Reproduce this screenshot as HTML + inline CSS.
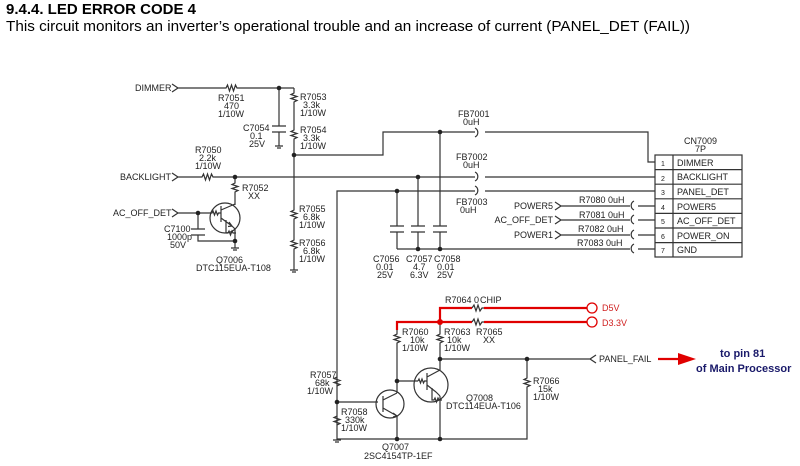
<!DOCTYPE html>
<html><head><style>
body{margin:0;background:#fff;width:800px;height:466px;overflow:hidden}
svg{display:block}
text{font-family:"Liberation Sans",sans-serif;fill:#222}
.s{font-size:9px}
.l{stroke:#333;stroke-width:1.2;fill:none}
.r{stroke:#e00000;stroke-width:2.2;fill:none}
</style></head><body>
<svg width="800" height="466" viewBox="0 0 800 466">
<text x="6" y="14" style="font-size:14.5px;font-weight:bold;fill:#000" textLength="190" lengthAdjust="spacingAndGlyphs">9.4.4. LED ERROR CODE 4</text>
<text x="6" y="31" style="font-size:15px;fill:#000" textLength="684" lengthAdjust="spacingAndGlyphs">This circuit monitors an inverter’s operational trouble and an increase of current (PANEL_DET (FAIL))</text>

<g class="l">
<path d="M172,84 L178,88 L172,92 M178,88 H226 l1.5,-3 2,6 2,-6 2,6 2,-6 1.5,3 H294"/>
<path d="M279,88 V126 M272,126 H286 M272,132 H286 M279,132 V146 M275,146 H283 M277,148 H281"/>
<path d="M294,88 V93 l-3,1.5 6,2 -6,2 6,2 -3,1.5 V130 l-3,1.5 6,2 -6,2 6,2 -3,1.5 V210 l-3,1.5 6,2 -6,2 6,2 -3,1.5 V240 l-3,1.5 6,2 -6,2 6,2 -3,1.5 V270 M290,270 H298 M292,272 H296"/>
<path d="M294,155 H383 V132 H475 M485,132 H648 V162 H655"/>
<path d="M475,128 a5,5 0 0 1 0,9" />
<path d="M172,173 L178,177 L172,181 M178,177 H202 l1.5,-3 2,6 2,-6 2,6 2,-6 1.5,3 H475 M485,177 H655"/>
<path d="M475,172 a5,5 0 0 1 0,9 M475,186 a5,5 0 0 1 0,9"/>
<path d="M235,177 V183 l-3,1.5 6,2 -6,2 6,2 -3,1.5 V205"/>
<circle cx="225" cy="218" r="15"/>
<path d="M172,209 L178,213 L172,217 M178,213 H212 l1,-2 1.5,4 1.5,-4 1.5,4 1,-2 H221 M221,206 V222 M221,210 L235,204 M221,218 L232,226 M229,222 l3,4 -4,0.5 M226,220 V233 M226,233 h2 l1,-2 1.5,4 1.5,-4 1,2 H236 M232,226 L235,229 V248 M231,248 H239 M233,250 H237"/>
<path d="M198,213 V229 M191,229 H205 M191,235 H205 M198,235 V241 H235"/>
<path d="M337,440 V191 H475 M485,191 H655"/>
<path d="M397,191 V226 M390,226 H404 M390,232 H404 M397,232 V249"/>
<path d="M418,177 V226 M411,226 H425 M411,232 H425 M418,232 V249"/>
<path d="M440,132 V226 M433,226 H447 M433,232 H447 M440,232 V249"/>
<path d="M397,249 H630 M638,249 H655"/>
<path d="M555,202 L561,206 L555,210 M561,206 H630 M638,206 H655"/>
<path d="M555,216 L561,220 L555,224 M561,220 H630 M638,220 H655"/>
<path d="M555,231 L561,235 L555,239 M561,235 H630 M638,235 H655"/>
<path d="M634,201 a5,5 0 0 0 0,9 M634,215 a5,5 0 0 0 0,9 M634,230 a5,5 0 0 0 0,9 M634,244 a5,5 0 0 0 0,9"/>
<rect x="655" y="155" width="87" height="102"/>
<path d="M673,155 V257 M655,169.6 H742 M655,184.2 H742 M655,198.8 H742 M655,213.4 H742 M655,228 H742 M655,242.6 H742"/>
<path d="M337,377 l-3,1.5 6,2 -6,2 6,2 -3,1.5 M337,416 l-3,1.5 6,2 -6,2 6,2 -3,1.5 M333,440 H341 M335,442 H339"/>
<path d="M337,402 H378"/>
<circle cx="390" cy="404" r="14"/>
<path d="M383,396 V412 M383,400 L397,393 M383,408 L397,416 M393,413 l4,3 -4,1"/>
<path d="M397,330 V334 l-3,1.5 6,2 -6,2 6,2 -3,1.5 V393 M397,416 V439"/>
<path d="M397,381 H418"/>
<circle cx="431" cy="385" r="17"/>
<path d="M418,381 l1,-2 1.5,4 1.5,-4 1.5,4 1,-2 H427 M427,373 V390 M427,377 L440,370 M427,385 L436,392 M432,388 V400 h2 l1,-2 1.5,4 1.5,-4 1,2 H442 M436,392 L440,396"/>
<path d="M440,323 V334 l-3,1.5 6,2 -6,2 6,2 -3,1.5 V370 M440,396 V439"/>
<path d="M440,359 H590 M596,355 L590,359 L596,363"/>
<path d="M527,359 V378 l-3,1.5 6,2 -6,2 6,2 -3,1.5 V439 H337"/>
</g>
<g class="r">
<path d="M397,330 V322 H472 M484,322 H587"/>
<path d="M440,322 V308 H472 M484,308 H587"/>
<circle cx="592" cy="308" r="5" style="stroke-width:1.3"/>
<circle cx="592" cy="322" r="5" style="stroke-width:1.3"/>
<path d="M658,359 H680"/>
</g>
<path d="M472,308 l2,-3 2,6 2,-6 2,6 2,-3 2,0 M472,322 l2,-3 2,6 2,-6 2,6 2,-3 2,0" stroke="#333" stroke-width="1.2" fill="none"/>
<polygon points="678,353 696,359 678,365" fill="#e00000"/>
<g fill="#222">
<circle cx="279" cy="88" r="2.3"/><circle cx="294" cy="155" r="2.3"/><circle cx="440" cy="132" r="2.3"/>
<circle cx="235" cy="177" r="2.3"/><circle cx="418" cy="177" r="2.3"/><circle cx="397" cy="191" r="2.3"/>
<circle cx="198" cy="213" r="2.3"/><circle cx="235" cy="241" r="2.3"/><circle cx="418" cy="249" r="2.3"/><circle cx="440" cy="249" r="2.3"/>
<circle cx="337" cy="402" r="2.3"/><circle cx="397" cy="381" r="2.3"/><circle cx="440" cy="359" r="2.3"/><circle cx="527" cy="359" r="2.3"/>
<circle cx="397" cy="439" r="2.3"/><circle cx="440" cy="439" r="2.3"/>
</g>
<circle cx="440" cy="322" r="3" fill="#e00000"/>

<g class="s">
<text x="135" y="91">DIMMER</text>
<text x="218" y="101">R7051</text><text x="224" y="109">470</text><text x="218" y="117">1/10W</text>
<text x="300" y="100">R7053</text><text x="303" y="108">3.3k</text><text x="300" y="116">1/10W</text>
<text x="243" y="131">C7054</text><text x="250" y="139">0.1</text><text x="249" y="147">25V</text>
<text x="300" y="133">R7054</text><text x="303" y="141">3.3k</text><text x="300" y="149">1/10W</text>
<text x="195" y="153">R7050</text><text x="199" y="161">2.2k</text><text x="195" y="169">1/10W</text>
<text x="120" y="180">BACKLIGHT</text>
<text x="242" y="191">R7052</text><text x="248" y="199">XX</text>
<text x="113" y="216">AC_OFF_DET</text>
<text x="164" y="232">C7100</text><text x="167" y="240">1000p</text><text x="170" y="248">50V</text>
<text x="216" y="263">Q7006</text><text x="196" y="271">DTC115EUA-T108</text>
<text x="299" y="212">R7055</text><text x="303" y="220">6.8k</text><text x="299" y="228">1/10W</text>
<text x="299" y="246">R7056</text><text x="303" y="254">6.8k</text><text x="299" y="262">1/10W</text>
<text x="458" y="117">FB7001</text><text x="463" y="125">0uH</text>
<text x="456" y="160">FB7002</text><text x="463" y="168">0uH</text>
<text x="456" y="205">FB7003</text><text x="460" y="213">0uH</text>
<text x="373" y="262">C7056</text><text x="376" y="270">0.01</text><text x="377" y="278">25V</text>
<text x="406" y="262">C7057</text><text x="413" y="270">4.7</text><text x="410" y="278">6.3V</text>
<text x="434" y="262">C7058</text><text x="437" y="270">0.01</text><text x="437" y="278">25V</text>
<text x="553" y="209" text-anchor="end">POWER5</text>
<text x="553" y="223" text-anchor="end">AC_OFF_DET</text>
<text x="553" y="238" text-anchor="end">POWER1</text>
<text x="579" y="203">R7080 0uH</text><text x="579" y="218">R7081 0uH</text><text x="578" y="232">R7082 0uH</text><text x="577" y="246">R7083 0uH</text>
<text x="684" y="144">CN7009</text><text x="695" y="152">7P</text>
<text x="661" y="166" style="font-size:7px">1</text><text x="661" y="181" style="font-size:7px">2</text><text x="661" y="195" style="font-size:7px">3</text><text x="661" y="210" style="font-size:7px">4</text><text x="661" y="224" style="font-size:7px">5</text><text x="661" y="239" style="font-size:7px">6</text><text x="661" y="253" style="font-size:7px">7</text>
<text x="677" y="166">DIMMER</text><text x="677" y="180">BACKLIGHT</text><text x="677" y="195">PANEL_DET</text><text x="677" y="210">POWER5</text><text x="677" y="224">AC_OFF_DET</text><text x="677" y="239">POWER_ON</text><text x="677" y="253">GND</text>
<text x="445" y="303">R7064 0</text><text x="480" y="303">CHIP</text>
<text x="602" y="311" style="fill:#d02020">D5V</text><text x="602" y="326" style="fill:#d02020">D3.3V</text>
<text x="402" y="335">R7060</text><text x="410" y="343">10k</text><text x="402" y="351">1/10W</text>
<text x="444" y="335">R7063</text><text x="447" y="343">10k</text><text x="444" y="351">1/10W</text>
<text x="476" y="335">R7065</text><text x="483" y="343">XX</text>
<text x="599" y="362">PANEL_FAIL</text>
<text x="533" y="384">R7066</text><text x="538" y="392">15k</text><text x="533" y="400">1/10W</text>
<text x="466" y="401">Q7008</text><text x="446" y="409">DTC114EUA-T106</text>
<text x="310" y="378">R7057</text><text x="315" y="386">68k</text><text x="307" y="394">1/10W</text>
<text x="341" y="415">R7058</text><text x="345" y="423">330k</text><text x="341" y="431">1/10W</text>
<text x="382" y="450">Q7007</text><text x="364" y="459">2SC4154TP-1EF</text>
</g>
<text x="720" y="357" style="font-size:11px;font-weight:bold;fill:#1a1a6a">to pin 81</text>
<text x="696" y="372" style="font-size:11px;font-weight:bold;fill:#1a1a6a">of Main Processor</text>
</svg>
</body></html>
